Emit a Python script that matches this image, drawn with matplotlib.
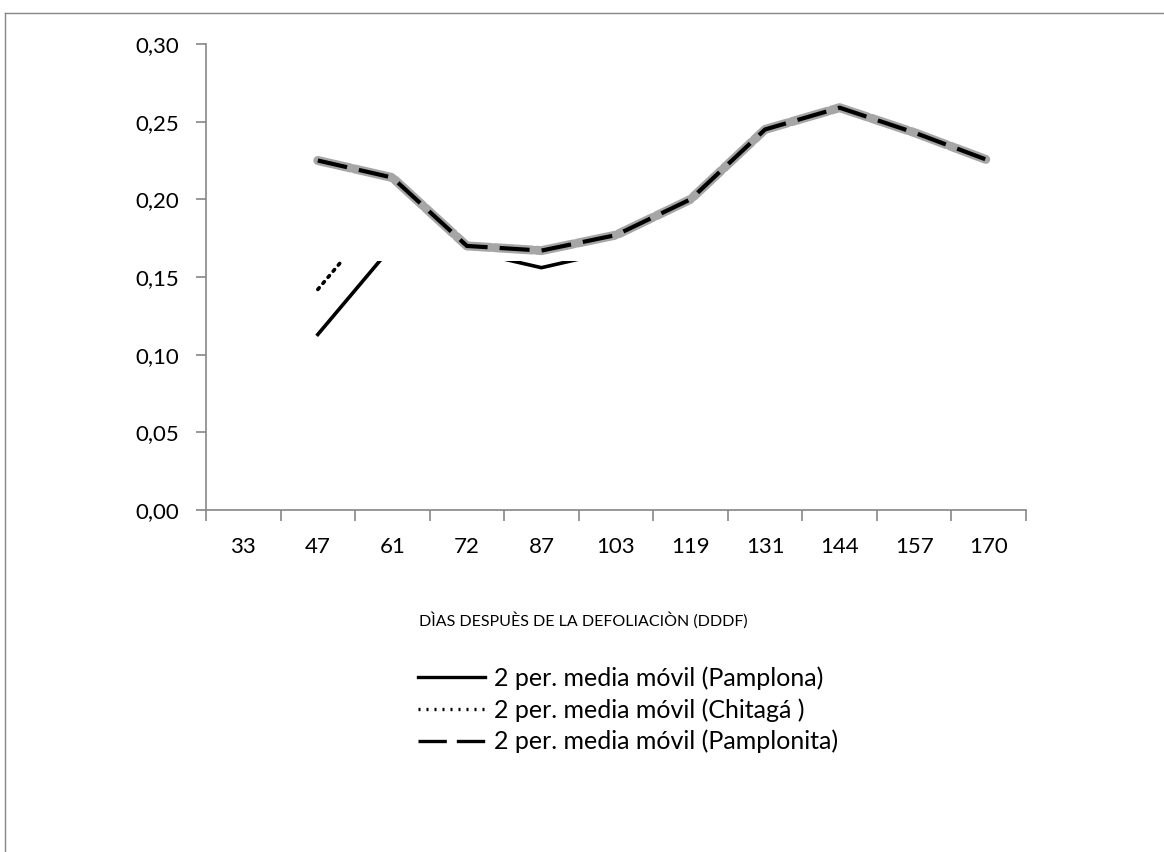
import matplotlib.pyplot as plt
from matplotlib.lines import Line2D
from matplotlib.ticker import FixedLocator, FuncFormatter

plt.rcParams['font.family'] = ['Lato', 'DejaVu Sans']

# days after defoliation (category axis)
days = ["33", "47", "61", "72", "87", "103", "119", "131", "144", "157", "170"]

# 2-period moving averages (first point is empty); values above 0.16 for
# Pamplona / Chitagá are hidden in the original chart
pamplona = [None, 0.113, 0.170, 0.167, 0.156, 0.167, 0.185, 0.200, 0.210, 0.205, 0.195]
chitaga = [None, 0.142, 0.199, 0.205, 0.200, 0.195, 0.210, 0.225, 0.230, 0.220, 0.215]
pamplonita = [None, 0.225, 0.214, 0.170, 0.167, 0.177, 0.200, 0.245, 0.259, 0.243, 0.225]

legend_labels = ["2 per. media móvil (Pamplona)",
                 "2 per. media móvil (Chitagá )",
                 "2 per. media móvil (Pamplonita)"]

fig = plt.figure(figsize=(11.64, 8.52), dpi=100)
ax = fig.add_axes([206 / 1164, 1 - 510 / 852, 820 / 1164, 466 / 852])

x = list(range(len(days)))


def split(vals):
    xs = [i for i, v in zip(x, vals) if v is not None]
    ys = [v for v in vals if v is not None]
    return xs, ys


xs, ys = split(pamplona)
ax.plot(xs, ys, color="black", lw=2.6, zorder=2)
xs, ys = split(chitaga)
ax.plot(xs, ys, color="black", lw=2.6, linestyle=(0, (0.6, 1.6)),
        dash_capstyle="round", zorder=2)

# white area above 0.16 hides the upper parts of the two lines
ax.axhspan(0.16, 0.30, color="white", zorder=3, lw=0)

xs, ys = split(pamplonita)
ax.plot(xs, ys, color="#a6a6a6", lw=6.5, linestyle=(0.43, (4.18, 0.46)),
        dash_capstyle="round", dash_joinstyle="round", zorder=4)
ax.plot(xs, ys, color="black", lw=3.0, linestyle=(0, (7.2, 2.9)),
        dash_capstyle="butt", zorder=5)

ax.set_xlim(-0.5, len(days) - 0.5)
ax.set_ylim(0, 0.30)
ax.set_yticks([0, 0.05, 0.10, 0.15, 0.20, 0.25, 0.30])
ax.yaxis.set_major_formatter(FuncFormatter(lambda v, p: f"{v:.2f}".replace(".", ",")))

ax.xaxis.set_major_locator(FixedLocator([i - 0.5 for i in range(len(days) + 1)]))
ax.xaxis.set_major_formatter(FuncFormatter(lambda v, p: ""))
ax.xaxis.set_minor_locator(FixedLocator(x))
ax.set_xticklabels(days, minor=True)
ax.tick_params(axis="x", which="major", length=8, color="#868686", width=1.2)
ax.tick_params(axis="x", which="minor", length=0, labelsize=16, pad=19.5)
ax.tick_params(axis="y", length=7, color="#868686", width=1.2, labelsize=16, pad=12)

for side in ["top", "right"]:
    ax.spines[side].set_visible(False)
for side in ["left", "bottom"]:
    ax.spines[side].set_color("#868686")
    ax.spines[side].set_linewidth(1.2)
    ax.spines[side].set_zorder(6)

fig.text(583 / 1164, 1 - 620 / 852, "DÌAS DESPUÈS DE LA DEFOLIACIÒN (DDDF)",
         ha="center", va="center", fontsize=11.5)

handles = [Line2D([], [], color="black", lw=2.4),
           Line2D([], [], color="black", lw=2.4, linestyle=(0, (0.6, 1.8))),
           Line2D([], [], color="black", lw=2.4, linestyle=(0, (8.5, 3)))]
fig.legend(handles, legend_labels, loc="center", bbox_to_anchor=(628 / 1164, 1 - 710 / 852),
           frameon=False, fontsize=18, handlelength=2.7, handletextpad=0.35,
           labelspacing=0.32, borderpad=0)

# outer chart border
fig.add_artist(Line2D([4.5 / 1164, 4.5 / 1164], [0, 1 - 13 / 852],
                      transform=fig.transFigure, color="#868686", lw=1))
fig.add_artist(Line2D([4.5 / 1164, 1], [1 - 13 / 852, 1 - 13 / 852],
                      transform=fig.transFigure, color="#868686", lw=1))

fig.savefig("out.png", dpi=100)
